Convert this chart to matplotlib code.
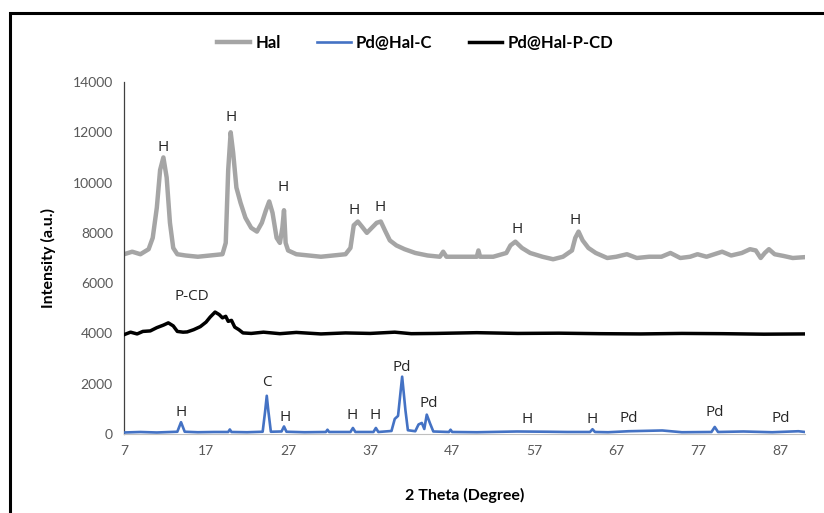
import matplotlib
matplotlib.use('Agg')
import matplotlib.pyplot as plt
from matplotlib.patches import Rectangle

# 2 theta (deg) / intensity
hal_x = [7, 8, 9, 10, 10.5, 11, 11.4, 11.8, 12.2, 12.6,
         13, 13.5, 14.5, 16, 17.5, 19, 19.4, 19.7, 20.0, 20.3,
         20.7, 21.2, 21.8, 22.5, 23.2, 23.8, 24.3, 24.7, 25.1, 25.6,
         26.0, 26.3, 26.5, 26.7, 27.0, 28, 29.5, 31, 32.5, 34,
         34.6, 35.0, 35.5, 36.0, 36.6, 37.2, 37.8, 38.3, 38.8, 39.4,
         40.2, 41.2, 42.5, 44, 45.5, 45.9, 46.3, 48, 50.0, 50.2,
         50.4, 52, 53.6, 54.1, 54.7, 55.5, 56.5, 58, 59.3, 60.5,
         61.6, 62.0, 62.4, 62.9, 63.6, 64.5, 65.9, 67, 68.3, 69.5,
         71, 72.5, 73.6, 74.8, 76, 76.9, 78, 79.9, 81, 82.3,
         83.3, 84, 84.6, 85.1, 85.6, 86.3, 87.4, 88.5, 89.8]
hal_y = [7150, 7250, 7150, 7350, 7800, 9000, 10500, 11000, 10200, 8400,
         7400, 7150, 7100, 7050, 7100, 7150, 7600, 10500, 12000, 11200,
         9800, 9200, 8600, 8200, 8050, 8400, 8900, 9250, 8800, 7800,
         7600, 8200, 8900, 7600, 7300, 7150, 7100, 7050, 7100, 7150,
         7400, 8300, 8450, 8250, 8000, 8200, 8400, 8450, 8100, 7700,
         7500, 7350, 7200, 7100, 7050, 7250, 7050, 7050, 7050, 7300,
         7050, 7050, 7200, 7500, 7650, 7400, 7200, 7050, 6950, 7050,
         7300, 7800, 8050, 7700, 7400, 7200, 7000, 7050, 7150, 7000,
         7050, 7050, 7200, 7000, 7050, 7150, 7050, 7250, 7100, 7200,
         7350, 7300, 7000, 7200, 7350, 7150, 7080, 7000, 7030]

pcd_x = [7, 7.8, 8.6, 9.3, 10.2, 11.0, 11.8, 12.4, 13.0, 13.5,
         14.2, 14.7, 15.5, 16.3, 17.0, 17.5, 18.1, 18.6, 19.0, 19.4,
         19.7, 20.1, 20.5, 21.0, 21.5, 22.5, 24, 26, 28, 31,
         34, 37, 40, 42, 45, 50, 55, 60, 65, 70,
         75, 80, 85, 90]
pcd_y = [3950, 4050, 3980, 4080, 4100, 4230, 4330, 4420, 4300, 4080,
         4050, 4060, 4150, 4270, 4450, 4650, 4850, 4750, 4620, 4680,
         4480, 4520, 4250, 4150, 4020, 4000, 4050, 3990, 4040, 3980,
         4020, 4000, 4050, 3990, 4000, 4030, 4000, 4010, 3990, 3980,
         4000, 3990, 3970, 3980]

pdc_x = [7, 9, 11, 13.5, 13.95, 14.4, 16, 18, 19.7, 19.9,
         20.1, 22, 23.9, 24.2, 24.4, 24.6, 24.9, 26.2, 26.5, 26.8,
         29, 31.6, 31.8, 32.0, 34.6, 34.9, 35.2, 37.4, 37.7, 38.0,
         39.6, 40.0, 40.4, 40.9, 41.3, 41.6, 42.5, 42.9, 43.3, 43.6,
         43.9, 44.3, 44.7, 46.6, 46.8, 47.0, 50, 54.9, 58.6, 61,
         63.8, 64.1, 64.4, 66, 68.5, 72.6, 75, 78.6, 79.0, 79.4,
         82.5, 86, 89.2, 90]
pdc_y = [60, 80, 60, 90, 470, 90, 70, 80, 80, 180,
         80, 70, 90, 900, 1520, 900, 90, 100, 300, 90,
         70, 80, 170, 80, 80, 240, 80, 80, 240, 80,
         120, 600, 720, 2280, 950, 150, 110, 380, 440, 200,
         770, 420, 100, 80, 170, 80, 70, 100, 90, 80,
         80, 190, 80, 70, 110, 140, 70, 80, 280, 80,
         100, 70, 110, 80]

# peak labels: (text, 2theta, intensity)
peak_labels = [
    ('H', 11.76, 11380), ('H', 20.05, 12580), ('H', 26.4, 9790),
    ('H', 35.05, 8880), ('H', 38.2, 9000), ('H', 54.9, 8120),
    ('H', 62.0, 8480), ('P-CD', 15.3, 5450),
    ('H', 13.95, 840), ('C', 24.4, 2030), ('H', 26.6, 640),
    ('H', 34.8, 720), ('H', 37.6, 720), ('Pd', 40.8, 2630),
    ('Pd', 44.2, 1230), ('H', 56.1, 580), ('H', 64.1, 580),
    ('Pd', 68.5, 600), ('Pd', 79.0, 840), ('Pd', 87.0, 600),
]

x_ticks = [7, 17, 27, 37, 47, 57, 67, 77, 87]
y_ticks = [0, 2000, 4000, 6000, 8000, 10000, 12000, 14000]

fig = plt.figure(figsize=(8.24, 5.13), dpi=100)
ax = fig.add_axes([124 / 824, 1 - 434 / 513, (805 - 124) / 824, (434 - 82) / 513])

ax.plot(hal_x, hal_y, color='#a5a5a5', lw=3.2, label='Hal', zorder=2)
ax.plot(pdc_x, pdc_y, color='#4472c4', lw=1.9, label='Pd@Hal-C', zorder=3)
ax.plot(pcd_x, pcd_y, color='black', lw=2.5, label='Pd@Hal-P-CD', zorder=3)

for txt, x, y in peak_labels:
    ax.text(x, y, txt, ha='center', va='center', fontsize=11,
            family='Open Sans', color='#262626')

ax.set_xlim(7, 90)
ax.set_ylim(0, 14000)
ax.set_xticks(x_ticks)
ax.set_yticks(y_ticks)
ax.tick_params(length=0, labelsize=10, labelcolor='#595959', pad=8)
for lab in ax.get_xticklabels() + ax.get_yticklabels():
    lab.set_family('Lato')
for s in ['top', 'right']:
    ax.spines[s].set_visible(False)
ax.spines['left'].set_color('#404040')
ax.spines['left'].set_linewidth(0.9)
ax.spines['bottom'].set_color('#bfbfbf')

ax.set_xlabel('2 Theta (Degree)', fontsize=11.5, fontweight='bold', family='Lato', labelpad=22)
ax.set_ylabel('Intensity (a.u.)', fontsize=11.5, fontweight='bold', family='Lato', labelpad=12)

fig.legend(loc='center', bbox_to_anchor=(415 / 824, 1 - 43 / 513), ncol=3, frameon=False,
           prop={'family': 'Lato', 'weight': 'bold', 'size': 12},
           handlelength=2.0, handletextpad=0.3, columnspacing=2.2)

# outer frame of the original figure
fig.patches.append(Rectangle((10 / 824, -0.1), 1.2, 1.1 - 13 / 513, transform=fig.transFigure,
                             fill=False, lw=2.2, edgecolor='black'))

fig.savefig('out.png', dpi=100)
